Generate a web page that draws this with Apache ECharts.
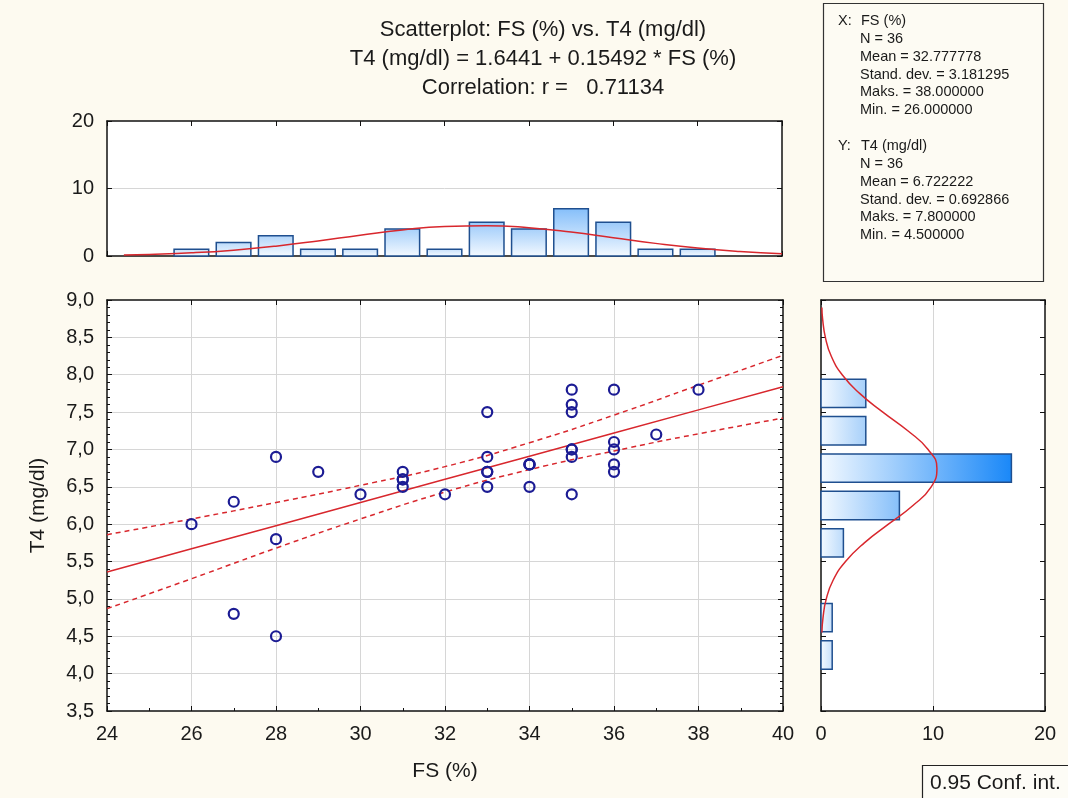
<!DOCTYPE html>
<html>
<head>
<meta charset="utf-8">
<script src="https://cdn.jsdelivr.net/npm/echarts@6/dist/echarts.min.js"></script>
<style>
  html, body { margin: 0; padding: 0; background: #fdfaf0; }
  #chart { width: 1068px; height: 798px; }
</style>
</head>
<body>
<div id="chart"></div>
<script>
// scatter points (FS %, T4 mg/dl)
const fsValues = [26, 27, 27, 28, 28, 28, 29, 30, 31, 31, 31, 31, 32,
  33, 33, 33, 33, 33, 34, 34, 34, 34, 35, 35, 35, 35, 35, 35, 35,
  36, 36, 36, 36, 36, 37, 38]
const t4Values = [6.0, 6.3, 4.8, 6.9, 5.8, 4.5, 6.7, 6.4, 6.7, 6.6, 6.6, 6.5, 6.4,
  7.5, 6.9, 6.7, 6.7, 6.5, 6.8, 6.8, 6.8, 6.5, 7.8, 7.6, 7.5, 7.0, 7.0, 6.9, 6.4,
  7.8, 7.1, 7.0, 6.8, 6.7, 7.2, 7.8]

// histogram of FS (top)
const fsBins = [26, 27, 28, 29, 30, 31, 32, 33, 34, 35, 36, 37, 38]
const fsCounts = [1, 2, 3, 1, 1, 4, 1, 5, 4, 7, 5, 1, 1]
const fsCurveX = [24.4, 25, 26, 27, 28, 29, 30, 31, 32, 33, 34, 35, 36, 37, 38, 39, 40]
const fsCurveY = [0.14, 0.23, 0.47, 0.87, 1.46, 2.23, 3.08, 3.86, 4.38, 4.50, 4.19, 3.54, 2.70, 1.87, 1.17, 0.67, 0.34]

// histogram of T4 (right)
const t4Bins = [4.25, 4.75, 5.25, 5.75, 6.25, 6.75, 7.25, 7.75]
const t4Counts = [1, 1, 0, 2, 7, 17, 4, 4]
const t4CurveY = [4.55, 4.75, 5.0, 5.25, 5.5, 5.75, 6.0, 6.25, 6.5, 6.75, 7.0, 7.25, 7.5, 7.75, 8.0, 8.25, 8.5, 8.75, 8.9]
const t4CurveX = [0.08, 0.18, 0.47, 1.08, 2.19, 3.87, 6.02, 8.21, 9.84, 10.35, 9.56, 7.75, 5.52, 3.45, 1.89, 0.91, 0.39, 0.14, 0.08]

// regression line and 0.95 confidence band
const fitX = [24, 26, 28, 30, 32, 34, 36, 38, 40]
const fitY = [5.36, 5.67, 5.98, 6.29, 6.60, 6.91, 7.22, 7.53, 7.84]
const bandUpper = [5.86, 6.07, 6.29, 6.52, 6.77, 7.09, 7.46, 7.86, 8.26]
const bandLower = [4.87, 5.27, 5.68, 6.07, 6.43, 6.73, 6.98, 7.21, 7.42]

const statsX = ['N = 36', 'Mean = 32.777778', 'Stand. dev. = 3.181295', 'Maks. = 38.000000', 'Min. = 26.000000']
const statsY = ['N = 36', 'Mean = 6.722222', 'Stand. dev. = 0.692866', 'Maks. = 7.800000', 'Min. = 4.500000']

const FONT = '"Liberation Sans", Arial, sans-serif'
const RED = '#d8272d'
const BAR_EDGE = '#1f4f8f'

// bar colour: light at 0, deep blue at 17
function barColor (v) {
  const a = [210, 230, 251]
  const b = [26, 136, 248]
  const t = Math.min(v / 17, 1)
  const c = a.map((x, i) => Math.round(x + (b[i] - x) * t))
  return 'rgb(' + c.join(',') + ')'
}

function renderTopBar (params, api) {
  const x = api.value(0)
  const c = api.value(1)
  if (!c) return null
  const p0 = api.coord([x - 0.41, c])
  const p1 = api.coord([x + 0.41, 0])
  return {
    type: 'rect',
    shape: { x: p0[0], y: p0[1], width: p1[0] - p0[0], height: p1[1] - p0[1] },
    style: {
      fill: new echarts.graphic.LinearGradient(0, p1[1], 0, p0[1], [
        { offset: 0, color: '#f3f9ff' },
        { offset: 1, color: barColor(c) }
      ], true),
      stroke: BAR_EDGE,
      lineWidth: 1.5
    }
  }
}

function renderSideBar (params, api) {
  const c = api.value(0)
  const y = api.value(1)
  if (!c) return null
  const p0 = api.coord([0, y + 0.19])
  const p1 = api.coord([c, y - 0.19])
  return {
    type: 'rect',
    shape: { x: p0[0], y: p0[1], width: p1[0] - p0[0], height: p1[1] - p0[1] },
    style: {
      fill: new echarts.graphic.LinearGradient(p0[0], 0, p1[0], 0, [
        { offset: 0, color: '#f3f9ff' },
        { offset: 1, color: barColor(c) }
      ], true),
      stroke: BAR_EDGE,
      lineWidth: 1.5
    }
  }
}

const lineBlack = { show: true, onZero: false, lineStyle: { color: '#111', width: 1.5 } }
const tickIn = { show: true, inside: true, length: 5, lineStyle: { color: '#111', width: 1 } }
const gridLine = { show: true, showMinLine: false, showMaxLine: false, lineStyle: { color: '#d6d6d6', width: 1 } }
const label20 = { fontSize: 20, color: '#1a1a1a', fontFamily: FONT, margin: 13 }

// mirrored axis (no labels) for the far side of each panel
function mirrorX (gi, min, max, interval) {
  return { gridIndex: gi, type: 'value', position: 'top', min, max, interval,
    axisLine: lineBlack, axisTick: tickIn, axisLabel: { show: false }, splitLine: { show: false } }
}
function mirrorY (gi, min, max, interval, minor) {
  return { gridIndex: gi, type: 'value', position: 'right', min, max, interval,
    axisLine: lineBlack, axisTick: tickIn, axisLabel: { show: false }, splitLine: { show: false },
    minorTick: minor ? { show: true, splitNumber: 5, length: 3, lineStyle: { color: '#111' } } : { show: false } }
}

const chart = echarts.init(document.getElementById('chart'), null, { renderer: 'canvas' })

const titleLines = [
  'Scatterplot: FS (%) vs. T4 (mg/dl)',
  'T4 (mg/dl) = 1.6441 + 0.15492 * FS (%)',
  'Correlation: r =   0.71134'
]

const graphics = []
titleLines.forEach((t, i) => {
  graphics.push({ type: 'text', x: 543, y: 30 + i * 29,
    style: { text: t, fontSize: 22, fontFamily: FONT, fill: '#1a1a1a', align: 'center', verticalAlign: 'middle' } })
})
// stats box
graphics.push({ type: 'rect', shape: { x: 823.5, y: 3.5, width: 220, height: 278 },
  style: { fill: '#fdfbf3', stroke: '#333', lineWidth: 1.2 } })
graphics.push({ type: 'text', x: 838, y: 21, style: { text: 'X:', fontSize: 14.5, fontFamily: FONT, fill: '#1a1a1a', verticalAlign: 'middle' } })
graphics.push({ type: 'text', x: 861, y: 21, style: { text: 'FS (%)', fontSize: 14.5, fontFamily: FONT, fill: '#1a1a1a', verticalAlign: 'middle' } })
statsX.forEach((t, i) => {
  graphics.push({ type: 'text', x: 860, y: 39 + i * 17.8, style: { text: t, fontSize: 14.5, fontFamily: FONT, fill: '#1a1a1a', verticalAlign: 'middle' } })
})
graphics.push({ type: 'text', x: 838, y: 146, style: { text: 'Y:', fontSize: 14.5, fontFamily: FONT, fill: '#1a1a1a', verticalAlign: 'middle' } })
graphics.push({ type: 'text', x: 861, y: 146, style: { text: 'T4 (mg/dl)', fontSize: 14.5, fontFamily: FONT, fill: '#1a1a1a', verticalAlign: 'middle' } })
statsY.forEach((t, i) => {
  graphics.push({ type: 'text', x: 860, y: 164 + i * 17.8, style: { text: t, fontSize: 14.5, fontFamily: FONT, fill: '#1a1a1a', verticalAlign: 'middle' } })
})
// legend-like box bottom right
graphics.push({ type: 'rect', shape: { x: 922.5, y: 765.5, width: 160, height: 40 },
  style: { fill: '#fdfcf6', stroke: '#222', lineWidth: 1.2 } })
graphics.push({ type: 'text', x: 930, y: 783, style: { text: '0.95 Conf. int.', fontSize: 21, fontFamily: FONT, fill: '#1a1a1a', verticalAlign: 'middle' } })

const option = {
  animation: false,
  backgroundColor: '#fdfaf0',
  textStyle: { fontFamily: FONT },
  grid: [
    { left: 107, top: 121, width: 675, height: 135, show: true, backgroundColor: '#fff', borderWidth: 0 },
    { left: 107, top: 300, width: 676, height: 411, show: true, backgroundColor: '#fff', borderWidth: 0 },
    { left: 821, top: 300, width: 224, height: 411, show: true, backgroundColor: '#fff', borderWidth: 0 }
  ],
  xAxis: [
    { gridIndex: 0, type: 'value', min: 24, max: 40, interval: 2,
      axisLine: lineBlack, axisTick: tickIn, axisLabel: { show: false }, splitLine: { show: false } },
    { gridIndex: 1, type: 'value', min: 24, max: 40, interval: 2,
      name: 'FS (%)', nameLocation: 'middle', nameGap: 50,
      nameTextStyle: { fontSize: 21, color: '#1a1a1a', fontFamily: FONT },
      axisLine: lineBlack, axisTick: tickIn, axisLabel: label20, splitLine: gridLine,
      minorTick: { show: true, splitNumber: 2, length: 3, lineStyle: { color: '#111' } } },
    { gridIndex: 2, type: 'value', min: 0, max: 20, interval: 10,
      axisLine: lineBlack, axisTick: tickIn, axisLabel: label20, splitLine: gridLine },
    mirrorX(0, 24, 40, 2),
    mirrorX(1, 24, 40, 2),
    mirrorX(2, 0, 20, 10)
  ],
  yAxis: [
    { gridIndex: 0, type: 'value', min: 0, max: 20, interval: 10,
      axisLine: lineBlack, axisTick: tickIn, axisLabel: label20, splitLine: gridLine },
    { gridIndex: 1, type: 'value', min: 3.5, max: 9, interval: 0.5,
      name: 'T4 (mg/dl)', nameLocation: 'middle', nameGap: 58, nameRotate: 90,
      nameTextStyle: { fontSize: 21, color: '#1a1a1a', fontFamily: FONT },
      axisLine: lineBlack, axisTick: tickIn, splitLine: gridLine,
      axisLabel: Object.assign({}, label20, { formatter: v => v.toFixed(1).replace('.', ',') }),
      minorTick: { show: true, splitNumber: 5, length: 3, lineStyle: { color: '#111' } } },
    { gridIndex: 2, type: 'value', min: 3.5, max: 9, interval: 0.5,
      axisLine: lineBlack, axisTick: tickIn, axisLabel: { show: false }, splitLine: { show: false } },
    mirrorY(0, 0, 20, 10, false),
    mirrorY(1, 3.5, 9, 0.5, true),
    mirrorY(2, 3.5, 9, 0.5, false)
  ],
  series: [
    { name: 'FS histogram', type: 'custom', xAxisIndex: 0, yAxisIndex: 0, renderItem: renderTopBar,
      data: fsBins.map((b, i) => [b, fsCounts[i]]), z: 2 },
    { name: 'FS normal', type: 'line', xAxisIndex: 0, yAxisIndex: 0, smooth: true, symbol: 'none',
      data: fsCurveX.map((x, i) => [x, fsCurveY[i]]), lineStyle: { color: RED, width: 1.5 }, z: 3 },
    { name: 'Fit', type: 'line', xAxisIndex: 1, yAxisIndex: 1, symbol: 'none',
      data: fitX.map((x, i) => [x, fitY[i]]), lineStyle: { color: RED, width: 1.5 }, z: 3 },
    { name: 'Upper', type: 'line', xAxisIndex: 1, yAxisIndex: 1, symbol: 'none', smooth: true,
      data: fitX.map((x, i) => [x, bandUpper[i]]), lineStyle: { color: RED, width: 1.5, type: [5, 4] }, z: 3 },
    { name: 'Lower', type: 'line', xAxisIndex: 1, yAxisIndex: 1, symbol: 'none', smooth: true,
      data: fitX.map((x, i) => [x, bandLower[i]]), lineStyle: { color: RED, width: 1.5, type: [5, 4] }, z: 3 },
    { name: 'Points', type: 'scatter', xAxisIndex: 1, yAxisIndex: 1, symbol: 'circle', symbolSize: 10,
      data: fsValues.map((x, i) => [x, t4Values[i]]),
      itemStyle: { color: 'rgba(255,255,255,0)', borderColor: '#1c1c94', borderWidth: 2.2, opacity: 1 }, z: 5 },
    { name: 'T4 histogram', type: 'custom', xAxisIndex: 2, yAxisIndex: 2, renderItem: renderSideBar,
      data: t4Bins.map((b, i) => [t4Counts[i], b]), z: 2 },
    { name: 'T4 normal', type: 'line', xAxisIndex: 2, yAxisIndex: 2, smooth: true, symbol: 'none',
      data: t4CurveX.map((x, i) => [x, t4CurveY[i]]), lineStyle: { color: RED, width: 1.5 }, z: 3 }
  ],
  graphic: graphics
}

chart.setOption(option)
</script>
</body>
</html>
